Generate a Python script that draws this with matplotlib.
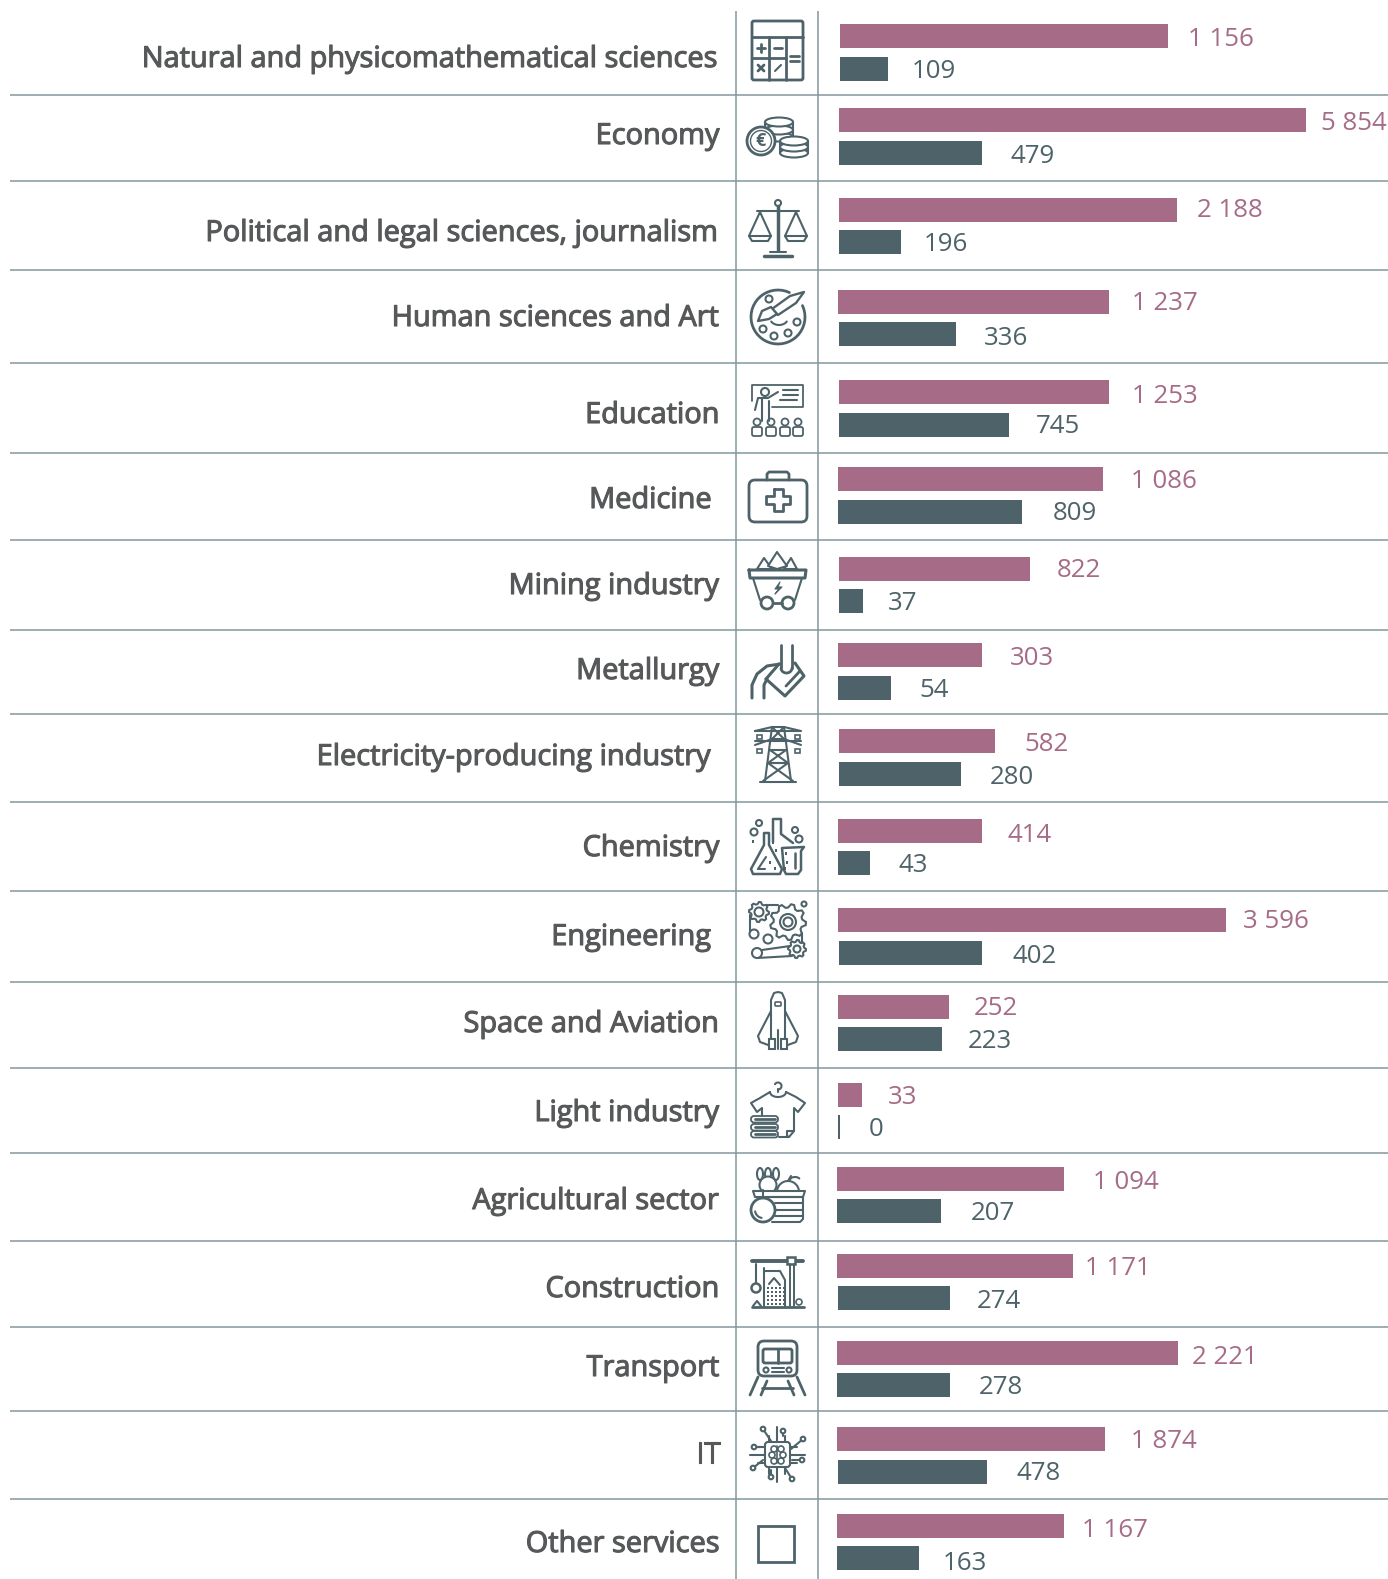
import numpy as np
import matplotlib
matplotlib.use('Agg')
import matplotlib.pyplot as plt
import matplotlib.patheffects as pe
from matplotlib.patches import Circle, Ellipse, FancyBboxPatch, Polygon, Rectangle

# everything is laid out in reference pixels
W, H = 1388, 1579
PINK = '#A66C87'
TEAL = '#4E6369'
RULE = '#84979D'
GREY = '#565859'

categories = ['Natural and physicomathematical sciences', 'Economy',
              'Political and legal sciences, journalism', 'Human sciences and Art',
              'Education', 'Medicine', 'Mining industry', 'Metallurgy',
              'Electricity-producing industry', 'Chemistry', 'Engineering',
              'Space and Aviation', 'Light industry', 'Agricultural sector',
              'Construction', 'Transport', 'IT', 'Other services']
# printed numbers
pink_labels = ['1 156', '5 854', '2 188', '1 237', '1 253', '1 086', '822', '303', '582',
               '414', '3 596', '252', '33', '1 094', '1 171', '2 221', '1 874', '1 167']
teal_labels = ['109', '479', '196', '336', '745', '809', '37', '54', '280',
               '43', '402', '223', '0', '207', '274', '278', '478', '163']
# drawn bar lengths: the source bars are not to scale with the printed numbers
pink_len = [328, 467, 338, 271, 270, 265, 191, 144, 156, 144, 388, 111, 24, 227, 236, 341, 268, 227]
teal_len = [48, 143, 62, 117, 170, 184, 24, 53, 122, 32, 143, 104, 2, 104, 112, 113, 149, 82]

# layout
pink_left = [840, 839, 839, 838, 839, 838, 839, 838, 839, 838, 838, 838, 838, 837, 837, 837, 837, 837]
teal_left = [840, 839, 839, 839, 839, 838, 839, 838, 839, 838, 839, 838, 838, 837, 838, 837, 838, 837]
pink_y = [36, 120, 210, 302, 392, 479, 569, 655, 741, 831, 920, 1007, 1095, 1179, 1266, 1353, 1439, 1526]
teal_y = [69, 153, 242, 334, 425, 512, 601, 688, 774, 863, 953, 1039, 1127, 1211, 1298, 1385, 1472, 1558]
pink_text_x = [1188, 1321, 1197, 1132, 1132, 1131, 1057, 1010, 1024, 1008, 1243, 974, 888, 1093, 1085, 1192, 1131, 1082]
teal_text_x = [912, 1011, 924, 984, 1036, 1053, 888, 919, 990, 899, 1013, 968, 869, 971, 977, 979, 1017, 943]
pink_text_y = [46, 130, 217, 310, 403, 488, 577, 665, 751, 842, 928, 1015, 1104, 1189, 1275, 1364, 1448, 1537]
teal_text_y = [78, 163, 251, 345, 433, 520, 610, 697, 784, 872, 963, 1048, 1136, 1220, 1308, 1394, 1480, 1570]
cat_base = [67, 144, 241, 326, 423, 508, 594, 679, 765, 856, 945, 1032, 1121, 1209, 1297, 1376, 1463, 1552]
cat_right = [720, 720, 720, 720, 720, 712, 720, 720, 712, 720, 712, 720, 720, 720, 720, 720, 720, 720]
rules_y = [94.6, 181, 270, 362.6, 453, 540, 629.5, 714, 802, 891, 982, 1068, 1153, 1241, 1327, 1411, 1499]

fig = plt.figure(figsize=(W/100, H/100), dpi=100)
ax = fig.add_axes([0, 0, 1, 1])
ax.set_xlim(0, W)
ax.set_ylim(H, 0)
ax.axis('off')

for y in rules_y:
    ax.plot([10, W], [y, y], color=RULE, lw=1.1, solid_capstyle='butt')
for x in [736, 818]:
    ax.plot([x, x], [11, H], color=RULE, lw=1.1, solid_capstyle='butt')

ax.barh(pink_y, pink_len, height=24, left=pink_left, color=PINK)
ax.barh(teal_y, teal_len, height=24, left=teal_left, color=TEAL)

heavier = [pe.withStroke(linewidth=0.8, foreground=GREY)]
for i, c in enumerate(categories):
    ax.text(cat_right[i], cat_base[i], c, ha='right', va='baseline', color=GREY,
            fontsize=20.85, family='Open Sans', path_effects=heavier)
    ax.text(pink_text_x[i], pink_text_y[i], pink_labels[i], ha='left', va='baseline',
            color=PINK, fontsize=18.6, family='Open Sans')
    ax.text(teal_text_x[i], teal_text_y[i], teal_labels[i], ha='left', va='baseline',
            color=TEAL, fontsize=18.6, family='Open Sans')


# icon helpers, all on one zorder so they paint in call order
LW = 1.5
Z = 3
def pl(*pts, lw=LW):
    xs, ys = zip(*pts)
    ax.plot(xs, ys, color=TEAL, lw=lw, solid_capstyle='round', solid_joinstyle='round', zorder=Z)

def circ(x, y, r, lw=LW, fill='none'):
    ax.add_patch(Circle((x, y), r, fc=fill, ec=TEAL, lw=lw, zorder=Z))

def rrect(x0, y0, x1, y1, r=3, lw=LW, fill='none'):
    ax.add_patch(FancyBboxPatch((x0+r, y0+r), x1-x0-2*r, y1-y0-2*r, boxstyle=f'round,pad={r},rounding_size={r}',
                                fc=fill, ec=TEAL, lw=lw, zorder=Z))

def rect(x0, y0, x1, y1, lw=LW, fill='none', ec=TEAL):
    ax.add_patch(Rectangle((x0, y0), x1-x0, y1-y0, fc=fill, ec=ec, lw=lw, zorder=Z))

def ell(x, y, w, h, fill='white', lw=LW):
    ax.add_patch(Ellipse((x, y), w, h, fc=fill, ec=TEAL, lw=lw, zorder=Z))

def poly(*pts, lw=LW, fill='white'):
    ax.add_patch(Polygon(pts, closed=True, fc=fill, ec=TEAL, lw=lw, joinstyle='round', zorder=Z))

def arc(x, y, rx, ry, a0, a1, lw=LW):
    t = np.radians(np.linspace(a0, a1, 40))
    ax.plot(x+rx*np.cos(t), y-ry*np.sin(t), color=TEAL, lw=lw, solid_capstyle='round', zorder=Z)

def gear(x, y, r, n, inner):
    t = np.linspace(0, 2*np.pi, n*4+1)
    rad = np.where(np.arange(len(t)) % 4 < 2, r, r*0.8)
    ax.fill(x+rad*np.cos(t), y+rad*np.sin(t), fc='white', ec=TEAL, lw=LW, zorder=Z)
    circ(x, y, inner)

# calculator
rrect(752, 21, 803, 80, r=2, lw=2)
pl((752, 37), (803, 37), lw=2)
pl((769, 37), (769, 80), lw=2)
pl((786, 37), (786, 80), lw=2)
pl((752, 58), (786, 58), lw=2)
pl((757, 48), (765, 48), lw=2); pl((761, 44), (761, 52), lw=2)
pl((774, 48), (782, 48), lw=2)
pl((758, 65), (764, 71), lw=2); pl((764, 65), (758, 71), lw=2)
pl((775, 71), (781, 65), lw=1.5)
pl((790, 56), (799, 56), lw=2); pl((790, 61), (799, 61), lw=2)

# coins
rect(765, 122, 793, 137, fill='white', ec='white', lw=0)
pl((765, 122), (765, 137)); pl((793, 122), (793, 137))
ell(779, 137, 28, 9, fill='none'); ell(779, 130, 28, 9); ell(779, 122, 28, 9)
rect(780, 141, 808, 153, fill='white', ec='white', lw=0)
pl((780, 141), (780, 153)); pl((808, 141), (808, 153))
ell(794, 153, 28, 9); ell(794, 147, 28, 9); ell(794, 141, 28, 9)
circ(761, 141, 14, fill='white', lw=2)
circ(761, 141, 10.5, fill='white', lw=1)
ax.text(761, 141, '€', ha='center', va='center', color=TEAL, fontsize=13, family='Open Sans', weight='bold', zorder=Z)

# scales
circ(778, 203, 3)
pl((778, 206), (778, 250), lw=2.5)
pl((757, 211), (799, 211))
pl((764, 256), (792, 256), lw=2.5); pl((770, 252), (786, 252))
for sx in [760, 796]:
    pl((sx, 212), (sx-11, 236), (sx-8, 241), (sx+8, 241), (sx+11, 236), (sx, 212))
    pl((sx-11, 236), (sx+11, 236))

# palette
arc(778, 317, 27, 27, 65, 385, lw=2)
poly((772, 309), (790, 296), (804, 292), (796, 303), (778, 315), lw=1.7)
poly((758, 321), (762, 311), (771, 307), (777, 314), (769, 319), lw=1.7)
for hx, hy in [(769, 299), (797, 322), (763, 329), (774, 336), (788, 333)]:
    circ(hx, hy, 3.5)
arc(779, 318, 9, 7, 210, 330)

# teacher and audience
pl((752, 401), (752, 385), (803, 385), (803, 407), (772, 407), lw=1.3)
circ(765, 392, 4)
pl((755, 410), (758, 398), (768, 398), (778, 392))
pl((762, 399), (762, 421)); pl((769, 401), (769, 421))
for px in [757, 771, 785, 798]:
    circ(px, 422, 3.5, lw=1.3)
    rrect(px-5, 427, px+5, 436, r=2, lw=1.3)
pl((783, 390), (798, 390)); pl((783, 395), (798, 395)); pl((780, 400), (797, 400))

# first aid
rrect(749, 480, 807, 522, r=6, lw=2)
pl((767, 480), (767, 474), (769, 472), (787, 472), (789, 474), (789, 480), lw=2)
pl((774, 489), (783, 489), (783, 496), (790, 496), (790, 504), (783, 504), (783, 511),
   (774, 511), (774, 504), (766, 504), (766, 496), (774, 496), (774, 489), lw=2)

# mine cart
poly((757, 569), (764, 558), (772, 569))
poly((791, 558), (797, 569), (784, 569))
poly((768, 566), (777, 552), (787, 566), (777, 569))
pl((749, 570), (806, 570), (805, 578), (750, 578), (749, 570), lw=2.2)
pl((753, 578), (760, 600)); pl((802, 578), (795, 600))
pl((773, 603), (782, 603), lw=2)
circ(767, 603, 6, lw=2); circ(788, 603, 6, lw=2)
poly((780, 582), (775, 589), (779, 589), (775, 594), (782, 587), (778, 587), fill=TEAL, lw=0.8)

# ladle
pl((781, 645), (781, 668), lw=2); pl((792, 645), (792, 668), lw=2)
arc(786.5, 668, 5.5, 5, 0, -180, lw=2)
pl((766, 679), (785, 696), (804, 676), (795, 663), lw=2.2)
pl((766, 679), (779, 664), lw=2.2)
pl((786, 686), (800, 671), lw=2)
pl((752, 698), (752, 685), (757, 674), (767, 666), (780, 664), lw=2.2)
pl((764, 698), (764, 685), (767, 679), lw=2.2)

# pylon
pl((772, 727), (765, 781)); pl((784, 727), (791, 781))
pl((755, 731), (772, 727), (784, 727), (801, 731), (755, 731))
pl((755, 741), (801, 741))
pl((755, 745), (772, 739), (784, 739), (801, 745))
pl((770, 750), (786, 750)); pl((768, 763), (788, 763)); pl((760, 782), (796, 782))
pl((770, 750), (788, 763), (768, 763), (786, 750)); pl((768, 763), (793, 781)); pl((788, 763), (763, 781))
pl((772, 727), (786, 741)); pl((784, 727), (770, 741))
for px, py in [(759, 737), (797, 737), (759, 751), (797, 751)]:
    rect(px-2, py-2, px+3, py+2, lw=1.2)

# flasks
pl((773, 842), (773, 819), (781, 819), (781, 834), (793, 843), lw=1.8)
poly((764, 833), (764, 845), (751, 869), (753, 874), (780, 874), (782, 869), (769, 845), (769, 833), lw=1.8)
poly((782, 848), (804, 847), (801, 851), (801, 870), (798, 874), (786, 874), (784, 870), lw=1.8)
pl((795, 853), (795, 868), lw=1.8)
for cx, cy, r in [(759, 823, 3), (754, 832, 3.5), (795, 830, 3), (799, 839, 3.5)]:
    circ(cx, cy, r)
for cx, cy in [(753, 841), (773, 842), (776, 850), (770, 862), (775, 868), (786, 853), (787, 862), (785, 868)]:
    rect(cx-1, cy-1, cx+1.5, cy+1.5, fill=TEAL, ec=TEAL, lw=0)
pl((758, 869), (766, 857), lw=1.5); pl((758, 869), (765, 869), lw=1.5)

# gears and belts
pl((750, 915), (750, 932)); pl((802, 933), (802, 942))
pl((762, 950), (790, 946)); pl((757, 958), (792, 956))
gear(788, 922, 18, 9, 8); circ(788, 922, 4.5)
gear(759, 912, 10, 8, 4.5)
gear(797, 949, 9, 8, 3.5)
circ(754, 934, 4.5, fill='white'); circ(768, 939, 4.5, fill='white'); circ(757, 953, 5, fill='white')
circ(804, 904, 2.5); pl((767, 905), (778, 905))

# shuttle
pl((771, 1046), (771, 1000), (774, 993), (778, 992), (782, 993), (785, 1000), (785, 1046))
pl((771, 1011), (758, 1036), (760, 1042), (771, 1046))
pl((785, 1011), (798, 1036), (796, 1042), (785, 1046))
rrect(775, 1002, 781, 1006, r=1, lw=1.2)
rect(769, 1039, 775, 1049, fill='white')
rect(781, 1039, 787, 1049, fill='white')
pl((778, 1030), (778, 1049))

# t-shirt on a folded stack
arc(778, 1086, 3.5, 3.5, 150, -90)
pl((778, 1089), (778, 1092))
arc(778, 1092, 8, 5, 180, 360)
pl((770, 1092), (760, 1098), (751, 1103), (757, 1112), (762, 1108), (762, 1115))
pl((786, 1092), (796, 1097), (805, 1103), (798, 1112), (794, 1108), (794, 1131), (789, 1137), (779, 1137))
pl((794, 1131), (787, 1131), (787, 1136), (789, 1137))
for sy in [1119, 1127, 1134]:
    rrect(751, sy-3, 778, sy+3.5, r=3, lw=1.3)
    pl((755, sy), (775, sy), lw=2)

# produce crate
for lx in [760, 768, 776]:
    ell(lx, 1174, 6, 12, fill='none')
ell(768, 1185, 17, 17)
arc(788, 1192, 11, 11, 0, 180)
pl((788, 1181), (791, 1176)); arc(795, 1180, 5, 3, 30, 170)
poly((753, 1191), (805, 1191), (803, 1197), (755, 1197))
pl((772, 1197), (803, 1197), (803, 1219), (800, 1222), (772, 1222))
pl((775, 1203), (803, 1203)); pl((775, 1210), (803, 1210)); pl((775, 1216), (803, 1216))
circ(763, 1210, 12, fill='white', lw=2)
pl((763, 1198), (763, 1190))
arc(763, 1210, 8, 8, 190, 260)

# tower crane
pl((752, 1261), (803, 1261), lw=2.8)
rect(787, 1257, 795, 1264, fill='white', lw=1.8)
pl((790, 1264), (790, 1306), lw=1.4); pl((794, 1264), (794, 1306), lw=1.4)
pl((756, 1264), (756, 1283)); circ(756, 1288, 4.5, lw=1.8)
pl((764, 1306), (764, 1268)); pl((785, 1306), (785, 1280), (780, 1271), (764, 1271))
pl((769, 1284), (774, 1278), (780, 1285))
for gx in range(767, 784, 4):
    for gy in range(1287, 1306, 4):
        rect(gx, gy, gx+2, gy+2, fill=TEAL, lw=0)
pl((752, 1307), (804, 1307), lw=2); pl((753, 1306), (757, 1301), (761, 1306))
circ(799, 1302, 3, lw=1.2)

# train
rrect(758, 1341, 797, 1376, r=6, lw=2)
rrect(763, 1349, 792, 1363, r=2, lw=2)
pl((778, 1349), (778, 1363), lw=2)
circ(766, 1370, 2.5); circ(789, 1370, 2.5)
pl((772, 1368), (784, 1368)); pl((772, 1372), (784, 1372))
pl((758, 1377), (750, 1395), lw=2); pl((797, 1377), (805, 1395), lw=2)
pl((767, 1381), (761, 1395), lw=2); pl((788, 1381), (794, 1395), lw=2)
pl((762, 1388), (793, 1388), lw=2)

# chip with brain
for d in [-8, 8]:
    pl((777.5+d, 1436), (777.5+d, 1442))
    pl((777.5+d, 1467), (777.5+d, 1474))
    pl((758, 1454.5+d), (765, 1454.5+d))
    pl((790, 1454.5+d), (797, 1454.5+d))
pl((777.5, 1427), (777.5, 1442)); pl((777.5, 1467), (777.5, 1482))
pl((750, 1454.5), (765, 1454.5)); pl((790, 1454.5), (805, 1454.5))
rrect(765, 1442, 790, 1467, r=3, fill='white')
for ex, ey in [(774, 1449), (781, 1449), (772, 1455), (783, 1455), (774, 1461), (781, 1461)]:
    ell(ex, ey, 6, 6, fill='none', lw=1.2)
pl((777.5, 1446), (777.5, 1463), lw=1.2)
for x0, y0, x1, y1 in [(771, 1441, 763, 1429), (783, 1436, 783, 1431), (791, 1449, 803, 1439),
                       (792, 1460, 802, 1460), (785, 1468, 792, 1479), (771, 1470, 771, 1477),
                       (763, 1460, 753, 1468), (762, 1447, 754, 1447)]:
    pl((x0, y0), (x1, y1)); circ(x1, y1, 2.3, fill='white')

# other services
rect(758.5, 1525.5, 794.5, 1561.5, lw=2)

fig.savefig('out.png', dpi=100)
